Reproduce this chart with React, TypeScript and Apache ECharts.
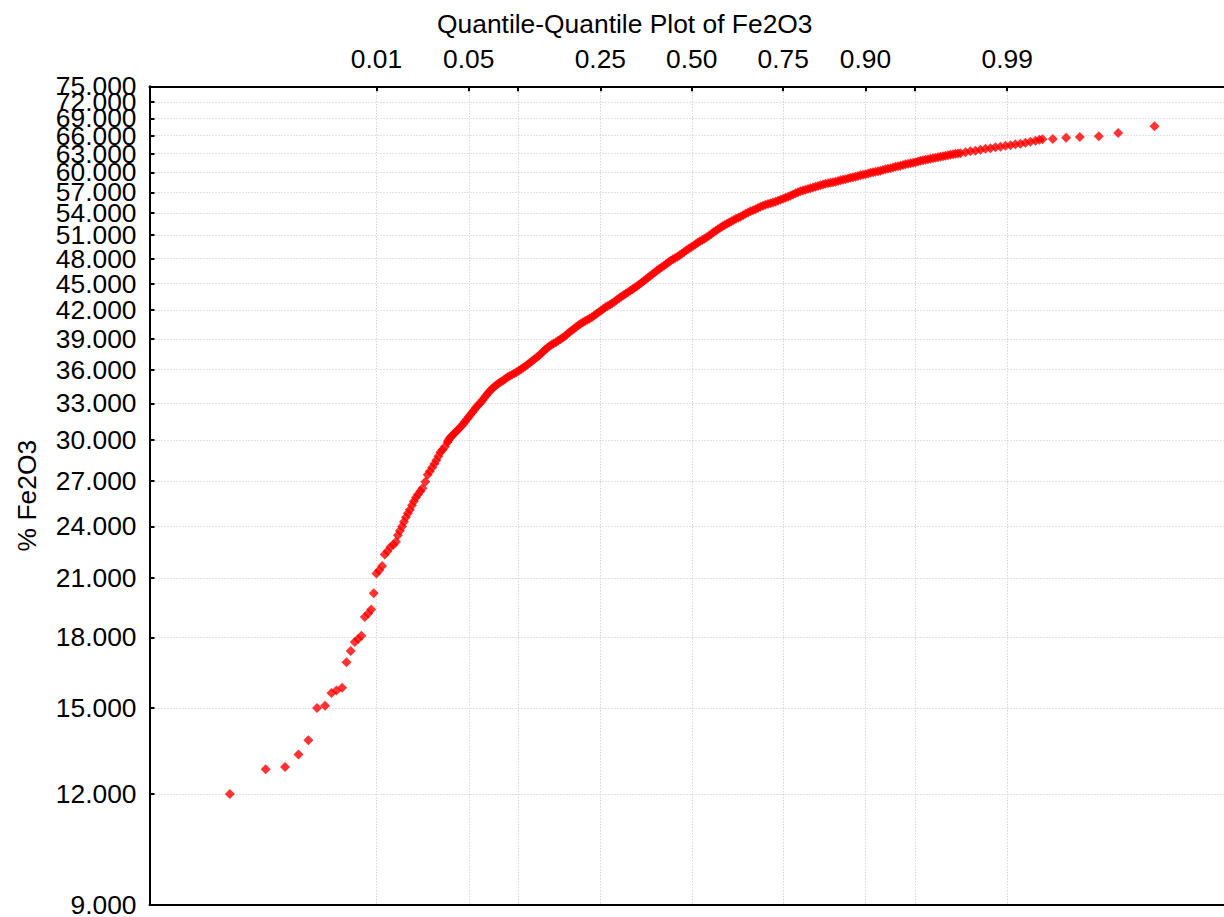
import React, { useEffect, useRef } from 'react';
import * as echarts from 'echarts';

const chartTitle = 'Quantile-Quantile Plot of Fe2O3';
const yAxisTitle = '% Fe2O3';

// Left axis tick values (% Fe2O3, log scaled axis)
const yTickValues = [9, 12, 15, 18, 21, 24, 27, 30, 33, 36, 39, 42, 45, 48, 51, 54, 57, 60, 63, 66, 69, 72, 75];

// Top axis: cumulative probabilities and their standard normal quantiles
const probTickLabels = ['0.01', '0.05', '0.10', '0.25', '0.50', '0.75', '0.90', '0.95', '0.99'];
const probTickZ = [-2.3263, -1.6449, -1.2816, -0.6745, 0, 0.6745, 1.2816, 1.6449, 2.3263];
const probLabelShown = [true, true, false, true, true, true, true, false, true];

const quantileZ = [
  -3.407, -3.143, -3.0, -2.901, -2.828, -2.764, -2.705, -2.658, -2.621, -2.579,
  -2.547, -2.516, -2.486, -2.461, -2.437, -2.412, -2.387, -2.365, -2.346, -2.326,
  -2.306, -2.284, -2.265, -2.245, -2.223, -2.201, -2.182, -2.168, -2.153, -2.137,
  -2.123, -2.109, -2.094, -2.079, -2.064, -2.05, -2.035, -2.02, -2.002, -1.987,
  -1.965, -1.948, -1.932, -1.915, -1.898, -1.884, -1.869, -1.854, -1.839, -1.821,
  -1.802, -1.795, -1.788, -1.779, -1.769, -1.756, -1.743, -1.729, -1.714, -1.699,
  -1.684, -1.672, -1.659, -1.646, -1.633, -1.62, -1.607, -1.594, -1.581, -1.568,
  -1.555, -1.543, -1.53, -1.517, -1.504, -1.491, -1.478, -1.463, -1.448, -1.434,
  -1.419, -1.404, -1.389, -1.375, -1.36, -1.344, -1.327, -1.31, -1.293, -1.277,
  -1.26, -1.244, -1.227, -1.211, -1.194, -1.178, -1.161, -1.145, -1.128, -1.111,
  -1.094, -1.08, -1.065, -1.05, -1.035, -1.019, -1.002, -0.986, -0.969, -0.953,
  -0.936, -0.92, -0.903, -0.886, -0.869, -0.853, -0.836, -0.82, -0.803, -0.787,
  -0.77, -0.754, -0.737, -0.72, -0.703, -0.687, -0.67, -0.654, -0.637, -0.621,
  -0.604, -0.588, -0.571, -0.554, -0.537, -0.521, -0.504, -0.488, -0.471, -0.455,
  -0.438, -0.422, -0.405, -0.388, -0.371, -0.355, -0.338, -0.322, -0.305, -0.289,
  -0.272, -0.256, -0.239, -0.222, -0.205, -0.189, -0.172, -0.156, -0.139, -0.123,
  -0.106, -0.09, -0.073, -0.057, -0.04, -0.023, -0.006, 0.011, 0.027, 0.044,
  0.06, 0.077, 0.093, 0.11, 0.127, 0.144, 0.16, 0.177, 0.193, 0.21,
  0.226, 0.243, 0.259, 0.276, 0.293, 0.31, 0.326, 0.343, 0.359, 0.378,
  0.396, 0.415, 0.433, 0.452, 0.47, 0.488, 0.506, 0.525, 0.543, 0.562,
  0.58, 0.599, 0.617, 0.636, 0.654, 0.673, 0.691, 0.71, 0.728, 0.747,
  0.765, 0.783, 0.801, 0.82, 0.838, 0.857, 0.875, 0.894, 0.912, 0.931,
  0.949, 0.968, 0.986, 1.005, 1.023, 1.042, 1.06, 1.079, 1.097, 1.115,
  1.133, 1.152, 1.17, 1.189, 1.207, 1.226, 1.244, 1.263, 1.281, 1.3,
  1.318, 1.337, 1.355, 1.374, 1.392, 1.41, 1.428, 1.447, 1.465, 1.484,
  1.502, 1.521, 1.539, 1.558, 1.576, 1.595, 1.613, 1.632, 1.65, 1.669,
  1.687, 1.706, 1.724, 1.742, 1.76, 1.779, 1.797, 1.816, 1.834, 1.853,
  1.871, 1.89, 1.908, 1.927, 1.945, 1.964, 1.982,
  2.019, 2.055, 2.092, 2.129, 2.166, 2.203, 2.24, 2.277, 2.314, 2.351,
  2.387, 2.424, 2.461, 2.498, 2.535, 2.564, 2.587,
  2.663, 2.761, 2.862, 3.002, 3.145, 3.413,
];

const fe2o3 = [
  12.0, 12.79, 12.87, 13.29, 13.79, 14.99, 15.08, 15.58, 15.69, 15.8,
  16.88, 17.38, 17.79, 17.92, 18.07, 18.98, 19.15, 19.35, 20.18, 21.24,
  21.42, 21.65, 22.31, 22.5, 22.74, 22.88, 23.06, 23.45, 23.73, 23.98,
  24.29, 24.57, 24.83, 25.05, 25.35, 25.61, 25.85, 26.05, 26.28, 26.49,
  26.94, 27.43, 27.68, 27.95, 28.22, 28.48, 28.78, 29.08, 29.26, 29.49,
  29.84, 29.97, 30.11, 30.22, 30.34, 30.48, 30.62, 30.78, 30.94, 31.12,
  31.3, 31.48, 31.67, 31.85, 32.04, 32.23, 32.42, 32.61, 32.8, 32.94,
  33.09, 33.28, 33.48, 33.67, 33.87, 34.05, 34.23, 34.38, 34.54, 34.67,
  34.81, 34.92, 35.03, 35.17, 35.31, 35.42, 35.54, 35.65, 35.77, 35.91,
  36.05, 36.19, 36.33, 36.49, 36.66, 36.82, 36.99, 37.16, 37.33, 37.54,
  37.76, 37.93, 38.11, 38.26, 38.41, 38.53, 38.65, 38.8, 38.96, 39.11,
  39.26, 39.46, 39.67, 39.85, 40.03, 40.21, 40.39, 40.55, 40.71, 40.84,
  40.97, 41.1, 41.24, 41.42, 41.61, 41.77, 41.94, 42.13, 42.32, 42.46,
  42.6, 42.76, 42.93, 43.12, 43.32, 43.49, 43.66, 43.83, 44.0, 44.17,
  44.34, 44.51, 44.68, 44.88, 45.09, 45.3, 45.5, 45.71, 45.92, 46.13,
  46.33, 46.54, 46.76, 46.94, 47.12, 47.34, 47.55, 47.74, 47.92, 48.08,
  48.23, 48.42, 48.61, 48.83, 49.05, 49.24, 49.43, 49.63, 49.82, 50.01,
  50.2, 50.37, 50.53, 50.73, 50.92, 51.16, 51.39, 51.59, 51.79, 51.99,
  52.19, 52.36, 52.53, 52.7, 52.87, 53.05, 53.22, 53.36, 53.49, 53.7,
  53.91, 54.09, 54.26, 54.4, 54.54, 54.72, 54.9, 55.04, 55.18, 55.29,
  55.39, 55.5, 55.61, 55.76, 55.9, 56.05, 56.19, 56.34, 56.48, 56.67,
  56.85, 57.0, 57.14, 57.25, 57.36, 57.48, 57.59, 57.7, 57.81, 57.93,
  58.04, 58.15, 58.26, 58.34, 58.41, 58.49, 58.56, 58.68, 58.79, 58.87,
  58.94, 59.06, 59.17, 59.25, 59.33, 59.45, 59.56, 59.64, 59.71, 59.83,
  59.95, 60.03, 60.1, 60.18, 60.26, 60.38, 60.49, 60.57, 60.65, 60.77,
  60.88, 60.96, 61.04, 61.16, 61.28, 61.36, 61.44, 61.52, 61.6, 61.72,
  61.84, 61.92, 62.0, 62.08, 62.16, 62.24, 62.32, 62.4, 62.48, 62.56,
  62.64, 62.72, 62.8, 62.89, 62.97, 63.01, 63.05,
  63.21, 63.38, 63.46, 63.62, 63.79, 63.87, 64.04, 64.12, 64.29, 64.37,
  64.54, 64.62, 64.79, 64.95, 65.12, 65.29, 65.38,
  65.43, 65.66, 65.77, 65.89, 66.45, 67.61,
];

const FONT = "'Liberation Sans', Arial, Helvetica, sans-serif";

export default function App() {
  const ref = useRef<HTMLDivElement>(null);

  useEffect(() => {
    document.body.style.margin = '0';
    const chart = echarts.init(ref.current as HTMLDivElement, undefined, { renderer: 'svg' });

    const lnTicks = yTickValues.map((v) => Math.log(v));
    // Label order: put the top value first and the bottom value last, so that the
    // first/last labels never collide with their list neighbours (all labels stay visible,
    // overlapping as in the reference).
    const lnLabelOrder = [
      lnTicks[lnTicks.length - 1],
      ...lnTicks.slice(1, lnTicks.length - 1),
      lnTicks[0],
    ];
    const probLabelZ = probTickZ.filter((_, i) => probLabelShown[i]);
    const probLabelFor = (z: number) => {
      let best = 0;
      for (let i = 1; i < probTickZ.length; i++) {
        if (Math.abs(probTickZ[i] - z) < Math.abs(probTickZ[best] - z)) best = i;
      }
      return probTickLabels[best];
    };

    const xMin = -4;
    const xMax = 3.9256;
    const axisLineStyle = { color: '#000', width: 2 };
    const gridLine = { show: true, lineStyle: { color: '#c4c4c4', type: [1, 2], width: 1 } };
    const labelText = { fontFamily: FONT, fontSize: 26.4, color: '#000' };

    chart.setOption({
      animation: false,
      backgroundColor: '#ffffff',
      title: {
        text: chartTitle,
        left: 437,
        top: 11,
        padding: 0,
        textStyle: { fontFamily: FONT, fontSize: 26.4, fontWeight: 'normal', color: '#000', lineHeight: 26 },
      },
      grid: {
        left: 149.5,
        top: 86.3,
        width: 1074.5,
        height: 818.7,
        containLabel: false,
        outerBoundsMode: 'none',
      },
      xAxis: [
        {
          type: 'value',
          position: 'bottom',
          min: xMin,
          max: xMax,
          axisLine: { show: true, onZero: false, lineStyle: axisLineStyle },
          axisTick: { show: false },
          axisLabel: { show: false },
          splitLine: { show: false },
        },
        {
          type: 'value',
          position: 'top',
          min: xMin,
          max: xMax,
          axisLine: { show: true, onZero: false, lineStyle: axisLineStyle },
          axisTick: { show: true, inside: true, length: 5, customValues: probTickZ, lineStyle: { color: '#000', width: 2 } },
          axisLabel: {
            show: true,
            margin: 14,
            customValues: probLabelZ,
            formatter: probLabelFor,
            showMinLabel: true,
            showMaxLabel: true,
            ...labelText,
          },
          splitLine: gridLine,
        },
      ],
      yAxis: {
        type: 'value',
        min: Math.log(9),
        max: Math.log(75),
        name: yAxisTitle,
        nameLocation: 'middle',
        nameGap: 110,
        nameTextStyle: { ...labelText },
        axisLine: { show: true, onZero: false, lineStyle: axisLineStyle },
        axisTick: { show: true, inside: true, length: 5, customValues: lnTicks, lineStyle: { color: '#000', width: 2 } },
        axisLabel: {
          show: true,
          margin: 13,
          customValues: lnLabelOrder,
          showMinLabel: true,
          showMaxLabel: true,
          formatter: (v: number) => Math.exp(v).toFixed(3),
          ...labelText,
        },
        splitLine: gridLine,
      },
      series: [
        {
          type: 'scatter',
          xAxisIndex: 0,
          yAxisIndex: 0,
          symbol: 'diamond',
          symbolSize: 10,
          silent: true,
          itemStyle: { color: '#ff0000' },
          data: quantileZ.map((z, i) => [z, Math.log(fe2o3[i])]),
        },
      ],
    });

    return () => chart.dispose();
  }, []);

  return <div ref={ref} style={{ position: 'absolute', left: 0, top: 0, width: 1224, height: 917 }} />;
}
